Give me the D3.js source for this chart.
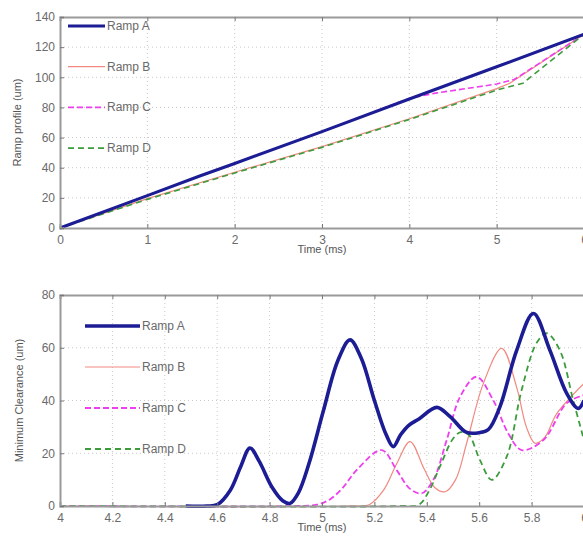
<!DOCTYPE html>
<html>
<head>
<meta charset="utf-8">
<script src="https://cdn.jsdelivr.net/npm/d3@7"></script>
<style>
  body { margin: 0; background: #fff; }
  svg { display: block; font-family: "Liberation Sans", Arial, sans-serif; }
</style>
</head>
<body>
<svg id="chart" width="583" height="537"></svg>
<script>
// ---- data ----
const seriesNames = ["Ramp A", "Ramp B", "Ramp C", "Ramp D"];

// ramp profile (um) vs time (ms)
const profileA = [[0, 0], [1, 21.5], [1.6, 34.5], [2, 42.8], [3, 64], [4, 85.6], [5, 107], [6, 128.5]];
const profileB = [[0, 0], [1, 19.5], [2, 37], [3, 54], [4, 72.5], [5, 92.5], [5.15, 96], [6, 128.5]];
const profileC = [[0, 0], [1, 21.5], [1.6, 34.5], [2, 42.8], [3, 64], [4, 86], [4.3, 89.5], [5, 95.5], [5.2, 98.5], [6, 128.5]];
const profileD = [[0, 0], [1, 19], [2, 36.5], [3, 53.5], [4, 72], [5, 91.5], [5.3, 96], [6, 128.5]];

// minimum clearance (um) vs time (ms)
const clearA = [[4.48, 0], [4.56, 0], [4.6, 0.5], [4.65, 6], [4.69, 15], [4.725, 22], [4.76, 17], [4.81, 7],
  [4.85, 2], [4.878, 1], [4.91, 5], [4.95, 16], [5.005, 36], [5.06, 55], [5.107, 63], [5.15, 56],
  [5.2, 40], [5.245, 27], [5.272, 22.5], [5.3, 27], [5.33, 30.5], [5.37, 33], [5.438, 37.4],
  [5.489, 33.9], [5.55, 28], [5.6, 27.8], [5.635, 29], [5.679, 37.6], [5.743, 59], [5.807, 73],
  [5.87, 59], [5.934, 42.7], [5.978, 37], [6, 40]];
const clearB = [[4, 0], [5.1, 0], [5.18, 0.5], [5.235, 6], [5.285, 16], [5.336, 24.4], [5.39, 14],
  [5.43, 7], [5.47, 5.4], [5.51, 10], [5.552, 23.8], [5.616, 46.5], [5.686, 59.8], [5.743, 45],
  [5.78, 30], [5.813, 23.8], [5.85, 26], [5.896, 35], [6, 46.5]];
const clearC = [[4, 0], [4.9, 0], [4.98, 0.5], [5.03, 2.5], [5.08, 7], [5.132, 13.6], [5.228, 21.2],
  [5.285, 13.6], [5.336, 6.5], [5.38, 4.8], [5.425, 9.9], [5.476, 25], [5.527, 41.4], [5.59, 49],
  [5.654, 40], [5.711, 27.5], [5.762, 21.2], [5.845, 25], [5.934, 39], [6, 42]];
const clearD = [[4, 0], [5.3, 0], [5.37, 0.5], [5.41, 6], [5.45, 14.9], [5.5, 25.5], [5.53, 28], [5.56, 27],
  [5.603, 17.4], [5.648, 9.9], [5.705, 18.7], [5.762, 44], [5.82, 62], [5.858, 65.5], [5.908, 59],
  [5.959, 40], [6, 25]];

const topTicksX = [0, 1, 2, 3, 4, 5, 6];
const topTicksY = [0, 20, 40, 60, 80, 100, 120, 140];
const botTicksX = [4, 4.2, 4.4, 4.6, 4.8, 5, 5.2, 5.4, 5.6, 5.8, 6];
const botTicksY = [0, 20, 40, 60, 80];

// line styles per series
const styles = [
  { color: "#1c1c94", dash: null },
  { color: "#f08a80", dash: null },
  { color: "#ee3fee", dash: "6,3" },
  { color: "#3c9c3c", dash: "6,4" }
];

const svg = d3.select("#chart");

function panel(opts) {
  const x = d3.scaleLinear().domain(opts.xDomain).range([60, 584]);
  const y = d3.scaleLinear().domain(opts.yDomain).range([opts.bottom, opts.top]);
  const g = svg.append("g");

  // grid
  const grid = g.append("g")
    .attr("stroke", "#c8c8c8")
    .attr("stroke-width", 1)
    .attr("stroke-dasharray", "1,3");
  grid.selectAll(".gx").data(opts.xTicks.slice(1, -1)).join("line")
    .attr("x1", (d) => x(d)).attr("x2", (d) => x(d))
    .attr("y1", opts.top).attr("y2", opts.bottom);
  grid.selectAll(".gy").data(opts.yTicks.slice(1, -1)).join("line")
    .attr("x1", 60).attr("x2", 584)
    .attr("y1", (d) => y(d)).attr("y2", (d) => y(d));

  // series
  const line = d3.line()
    .x((d) => x(d[0]))
    .y((d) => y(Math.max(0, d[1])))
    .curve(opts.curve);
  const order = [1, 2, 3, 0];
  order.forEach((i) => {
    g.append("path")
      .datum(opts.series[i])
      .attr("fill", "none")
      .attr("stroke", styles[i].color)
      .attr("stroke-width", opts.widths[i])
      .attr("stroke-dasharray", styles[i].dash)
      .attr("stroke-linejoin", "round")
      .attr("d", line);
  });

  // axes
  const axB = g.append("g").attr("transform", `translate(0,${opts.bottom})`)
    .call(d3.axisBottom(x).tickValues(opts.xTicks).tickSize(-4).tickPadding(7)
      .tickFormat(d3.format("~g")));
  const axT = g.append("g").attr("transform", `translate(0,${opts.top})`)
    .call(d3.axisTop(x).tickValues(opts.xTicks).tickSize(-4).tickFormat(""));
  const axL = g.append("g").attr("transform", "translate(60,0)")
    .call(d3.axisLeft(y).tickValues(opts.yTicks).tickSize(-4).tickPadding(5));
  [axB, axT, axL].forEach((a) => {
    a.select(".domain").attr("stroke", "#9a9a9a").attr("stroke-width", 2);
    a.selectAll(".tick line").attr("stroke", "#777").attr("stroke-width", 1);
    a.selectAll("text").attr("fill", "#6a6a6a").attr("font-size", 12);
  });

  // axis titles
  g.append("text")
    .attr("x", 322).attr("y", opts.bottom + 25)
    .attr("text-anchor", "middle").attr("font-size", 11).attr("fill", "#555")
    .text("Time (ms)");
  g.append("text")
    .attr("transform", `translate(${opts.yLabelX},${(opts.top + opts.bottom) / 2}) rotate(-90)`)
    .attr("text-anchor", "middle").attr("font-size", 11).attr("fill", "#555")
    .text(opts.yLabel);

  // legend
  const leg = g.append("g");
  seriesNames.forEach((name, i) => {
    const ly = opts.legend.y0 + i * opts.legend.dy;
    leg.append("line")
      .attr("x1", opts.legend.x1).attr("x2", opts.legend.x2)
      .attr("y1", ly).attr("y2", ly)
      .attr("stroke", styles[i].color)
      .attr("stroke-width", opts.widths[i])
      .attr("stroke-dasharray", styles[i].dash);
    leg.append("text")
      .attr("x", opts.legend.x2 + 2).attr("y", ly + 4)
      .attr("font-size", 12).attr("fill", "#6a6a6a")
      .text(name);
  });
}

panel({
  xDomain: [0, 6], yDomain: [0, 140], top: 17, bottom: 228,
  xTicks: topTicksX, yTicks: topTicksY,
  series: [profileA, profileB, profileC, profileD],
  widths: [3, 1.2, 1.6, 1.6],
  curve: d3.curveLinear,
  yLabel: "Ramp profile (um)", yLabelX: 21,
  legend: { x1: 68, x2: 105, y0: 26, dy: 40.7 }
});

panel({
  xDomain: [4, 6], yDomain: [0, 80], top: 295, bottom: 506,
  xTicks: botTicksX, yTicks: botTicksY,
  series: [clearA, clearB, clearC, clearD],
  widths: [3.6, 1.2, 1.8, 1.8],
  curve: d3.curveCatmullRom.alpha(0.5),
  yLabel: "Minimum Clearance (um)", yLabelX: 23,
  legend: { x1: 85, x2: 140, y0: 326, dy: 41 }
});
</script>
</body>
</html>
